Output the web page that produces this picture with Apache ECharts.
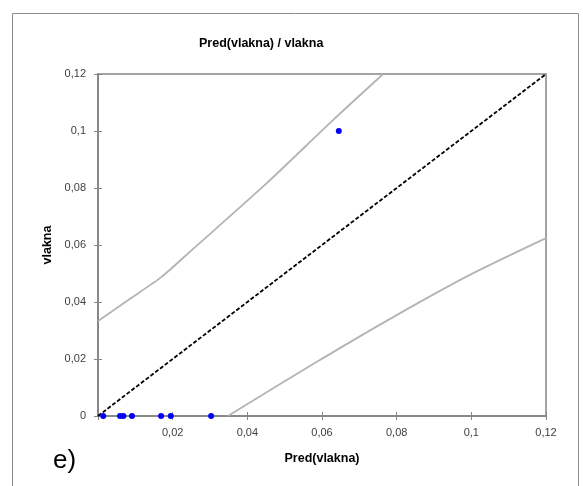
<!DOCTYPE html>
<html>
<head>
<meta charset="utf-8">
<script src="https://cdn.jsdelivr.net/npm/echarts@6/dist/echarts.min.js"></script>
<style>html,body{margin:0;padding:0;background:#fff;}#chart{width:583px;height:486px;}</style>
</head>
<body>
<div id="chart"></div>
<script>
// Observed points (Pred(vlakna), vlakna)
const obsX = [0.0014, 0.0059, 0.0068, 0.0091, 0.0169, 0.0195, 0.0303, 0.0645];
const obsY = [0, 0, 0, 0, 0, 0, 0, 0.1];
// Upper band
const upperX = [0, 0.0081, 0.0171, 0.0251, 0.0452, 0.063, 0.0764];
const upperY = [0.0333, 0.0407, 0.0489, 0.0582, 0.0817, 0.1039, 0.12];
// Lower band
const lowerX = [0.0348, 0.0595, 0.08, 0.0996, 0.12];
const lowerY = [0, 0.0197, 0.0354, 0.0495, 0.0624];
// Identity line
const diagX = [0, 0.12];
const diagY = [0, 0.12];
// Tick labels
const xTickLabels = ['', '0,02', '0,04', '0,06', '0,08', '0,1', '0,12'];
const yTickLabels = ['0', '0,02', '0,04', '0,06', '0,08', '0,1', '0,12'];
const tickStep = 0.02;

const zip = (a, b) => a.map((v, i) => [v, b[i]]);
const idx = v => Math.round(v / tickStep);

const axisColor = '#868686';
const labelColor = '#404040';
const font = 'Liberation Sans, Arial, sans-serif';

const chart = echarts.init(document.getElementById('chart'), null, {renderer: 'canvas'});
chart.setOption({
  animation: false,
  backgroundColor: '#ffffff',
  textStyle: {fontFamily: font},
  title: [
    {text: 'Pred(vlakna) / vlakna', left: 194, top: 32,
     textStyle: {fontSize: 12.5, fontWeight: 'bold', color: '#000000', fontFamily: font}},
    {text: 'e)', left: 48, top: 443,
     textStyle: {fontSize: 26, fontWeight: 'normal', color: '#000000', fontFamily: font}}
  ],
  graphic: [{
    type: 'rect', silent: true,
    shape: {x: 12.5, y: 13.5, width: 566, height: 490},
    style: {fill: 'none', stroke: '#8c8c8c', lineWidth: 1}
  }],
  grid: {left: 98, right: 37, top: 74, bottom: 70, show: true,
         borderColor: axisColor, borderWidth: 1.5, containLabel: false},
  xAxis: [{
    type: 'value', min: 0, max: 0.12, interval: tickStep, position: 'bottom',
    name: 'Pred(vlakna)', nameLocation: 'middle', nameGap: 36,
    nameTextStyle: {fontSize: 12.5, fontWeight: 'bold', color: '#000000', fontFamily: font},
    axisLine: {show: true, onZero: true, lineStyle: {color: axisColor, width: 1.5}},
    axisTick: {show: true, length: 4, lineStyle: {color: axisColor, width: 1}},
    axisLabel: {fontSize: 11, color: labelColor, margin: 11, fontFamily: font,
                formatter: v => xTickLabels[idx(v)]},
    splitLine: {show: false}
  }, {
    type: 'value', min: 0, max: 0.12, interval: tickStep, position: 'top',
    axisLine: {show: true, onZero: true, lineStyle: {color: axisColor, width: 1.5}},
    axisTick: {show: true, length: 4, lineStyle: {color: axisColor, width: 1}},
    axisLabel: {show: false},
    splitLine: {show: false}
  }],
  yAxis: [{
    type: 'value', min: 0, max: 0.12, interval: tickStep, position: 'left',
    name: 'vlakna', nameLocation: 'middle', nameGap: 44, nameRotate: 90,
    nameTextStyle: {fontSize: 12.5, fontWeight: 'bold', color: '#000000', fontFamily: font},
    axisLine: {show: true, onZero: true, lineStyle: {color: axisColor, width: 1.5}},
    axisTick: {show: true, length: 4, lineStyle: {color: axisColor, width: 1}},
    axisLabel: {fontSize: 11, color: labelColor, margin: 12, fontFamily: font,
                formatter: v => yTickLabels[idx(v)]},
    splitLine: {show: false}
  }, {
    type: 'value', min: 0, max: 0.12, interval: tickStep, position: 'right',
    axisLine: {show: true, onZero: true, lineStyle: {color: axisColor, width: 1.5}},
    axisTick: {show: true, length: 4, lineStyle: {color: axisColor, width: 1}},
    axisLabel: {show: false},
    splitLine: {show: false}
  }],
  series: [
    {type: 'line', data: zip(upperX, upperY), showSymbol: false, symbol: 'none', smooth: 0.25,
     lineStyle: {color: '#b4b4b4', width: 1.8}, z: 2},
    {type: 'line', data: zip(lowerX, lowerY), showSymbol: false, symbol: 'none', smooth: 0.25,
     lineStyle: {color: '#b4b4b4', width: 1.8}, z: 2},
    {type: 'line', data: zip(diagX, diagY), showSymbol: false, symbol: 'none',
     lineStyle: {color: '#000000', width: 1.8, type: [4, 2]}, z: 3},
    {type: 'scatter', data: zip(obsX, obsY), symbol: 'circle', symbolSize: 6,
     itemStyle: {color: '#0000ff', opacity: 1}, z: 5}
  ]
});
</script>
</body>
</html>
